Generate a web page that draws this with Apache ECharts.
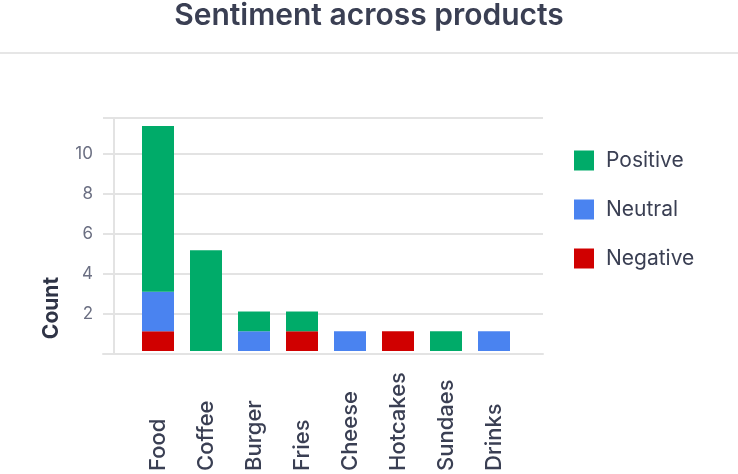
<!DOCTYPE html>
<html>
<head>
<meta charset="utf-8">
<script src="https://cdn.jsdelivr.net/npm/echarts@6/dist/echarts.min.js"></script>
<style>
  html, body { margin: 0; padding: 0; background: #fff; }
  #chart { width: 738px; height: 474px; }
</style>
</head>
<body>
<div id="chart"></div>
<script>
  const products = ['Food', 'Coffee', 'Burger', 'Fries', 'Cheese', 'Hotcakes', 'Sundaes', 'Drinks'];
  const negative = [1, 0, 0, 1, 0, 1, 0, 0];
  const neutral = [2, 0, 1, 0, 1, 0, 0, 1];
  const positive = [8.4, 5.1, 1, 1, 0, 0, 1, 0];
  const yTicks = [2, 4, 6, 8, 10];

  const font = 'Inter, "Noto Sans", sans-serif';
  const dark = '#3a3f53';

  const myChart = echarts.init(document.getElementById('chart'));

  function bar(name, data, color) {
    return {
      name: name,
      type: 'bar',
      stack: 'total',
      xAxisIndex: 1,
      yAxisIndex: 1,
      barWidth: 32,
      data: data.map((v) => (v === 0 ? null : v)),
      itemStyle: { color: color },
    };
  }

  myChart.setOption({
    animation: false,
    textStyle: { fontFamily: font },
    title: {
      text: 'Sentiment across products',
      left: 'center',
      top: -4,
      textStyle: { fontSize: 30, fontWeight: 600, color: dark, fontFamily: font },
    },
    legend: {
      orient: 'vertical',
      left: 569,
      top: 145,
      itemWidth: 20,
      itemHeight: 20,
      itemGap: 28,
      icon: 'rect',
      data: ['Positive', 'Neutral', 'Negative'],
      textStyle: { fontSize: 21, color: dark, padding: [0, 0, 0, 7] },
    },
    graphic: [
      {
        type: 'rect',
        shape: { x: 0, y: 52, width: 738, height: 2 },
        style: { fill: '#e6e6e6' },
      },
      {
        type: 'text',
        x: 52,
        y: 308,
        rotation: Math.PI / 2,
        style: {
          text: 'Count',
          fontSize: 21,
          fontWeight: 'bold',
          fill: '#2f3446',
          fontFamily: font,
          align: 'center',
          verticalAlign: 'middle',
        },
      },
    ],
    grid: [
      { left: 103, top: 118, width: 440, height: 236 },
      { left: 134, top: 118, width: 384, height: 236 },
    ],
    xAxis: [
      {
        gridIndex: 0,
        type: 'value',
        min: 0,
        max: 1,
        show: true,
        axisLine: { show: true, lineStyle: { color: '#e3e3e3', width: 2 } },
        axisTick: { show: false },
        axisLabel: { show: false },
        splitLine: { show: false },
      },
      {
        gridIndex: 1,
        type: 'category',
        data: products,
        axisLine: { show: false },
        axisTick: { show: false },
        axisLabel: {
          interval: 0,
          rotate: 90,
          align: 'left',
          margin: 120,
          fontSize: 22,
          fontWeight: 500,
          color: dark,
        },
      },
    ],
    yAxis: [
      {
        gridIndex: 0,
        type: 'value',
        min: 0,
        max: 11.8,
        interval: 2,
        offset: -11,
        axisLine: { show: true, lineStyle: { color: '#e3e3e3', width: 2 } },
        axisTick: { show: false },
        axisLabel: {
          margin: 21,
          fontSize: 17,
          color: '#6b6f82',
          formatter: (v) => (yTicks.includes(v) ? String(v) : ''),
        },
        splitLine: { show: true, lineStyle: { color: '#e3e3e3', width: 2 } },
      },
      {
        gridIndex: 1,
        type: 'value',
        min: 0,
        max: 11.8,
        show: false,
        splitLine: { show: false },
      },
    ],
    series: [
      bar('Negative', negative, '#d00000'),
      bar('Neutral', neutral, '#4a83f0'),
      bar('Positive', positive, '#00ab69'),
    ],
  });
</script>
</body>
</html>
